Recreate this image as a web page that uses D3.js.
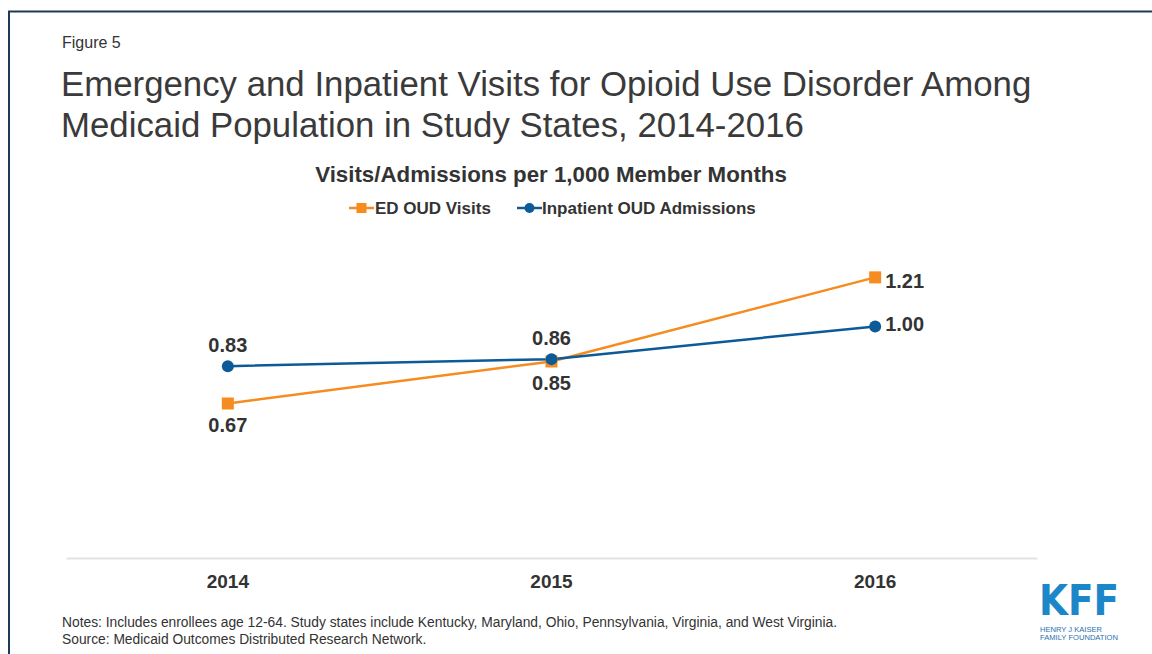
<!DOCTYPE html>
<html>
<head>
<meta charset="utf-8">
<script src="https://cdn.jsdelivr.net/npm/d3@7"></script>
<style>
  html, body { margin: 0; padding: 0; background: #fff; }
  svg { display: block; font-family: "Liberation Sans", Arial, sans-serif; }
</style>
</head>
<body>
<svg id="chart" width="1152" height="654"></svg>
<script>
// Chart data
const years = ["2014", "2015", "2016"];
const edVisits = [0.67, 0.85, 1.21];
const inpatientAdmissions = [0.83, 0.86, 1.00];
const seriesNames = ["ED OUD Visits", "Inpatient OUD Admissions"];
const yDomain = [0, 1.4];

const orange = "#f68b1f";
const blue = "#0d5a98";
const textColor = "#333333";

const svg = d3.select("#chart");

// Frame
svg.append("path")
  .attr("d", "M9,654 V11.5 H1152")
  .attr("fill", "none")
  .attr("stroke", "#1e3a55")
  .attr("stroke-width", 2);

// Header texts
svg.append("text").attr("x", 62).attr("y", 48)
  .attr("font-size", 16).attr("fill", textColor).text("Figure 5");

const title = svg.append("text").attr("font-size", 34.8).attr("fill", "#3a3a3a");
title.append("tspan").attr("x", 61).attr("y", 96)
  .text("Emergency and Inpatient Visits for Opioid Use Disorder Among");
title.append("tspan").attr("x", 61).attr("y", 137)
  .text("Medicaid Population in Study States, 2014-2016");

svg.append("text").attr("x", 551).attr("y", 182)
  .attr("text-anchor", "middle").attr("font-size", 22.3).attr("font-weight", "bold")
  .attr("fill", textColor).text("Visits/Admissions per 1,000 Member Months");

// Scales
const x = d3.scaleBand().domain(years).range([66, 1037]).padding(0);
const y = d3.scaleLinear().domain(yDomain).range([560, 233]);
const cx = d => x(d) + x.bandwidth() / 2;

// Category axis
const xAxis = svg.append("g").attr("transform", "translate(0,558)")
  .call(d3.axisBottom(x).tickSize(0).tickPadding(17));
xAxis.select(".domain").attr("stroke", "#e3e3e3").attr("stroke-width", 2);
xAxis.selectAll("text")
  .attr("font-family", "Liberation Sans, Arial, sans-serif")
  .attr("font-size", 19).attr("font-weight", "bold").attr("fill", textColor);

// Lines
const line = d3.line().x((d, i) => cx(years[i])).y(d => y(d));

svg.append("path").datum(edVisits)
  .attr("d", line).attr("fill", "none")
  .attr("stroke", orange).attr("stroke-width", 2.5);
svg.append("path").datum(inpatientAdmissions)
  .attr("d", line).attr("fill", "none")
  .attr("stroke", blue).attr("stroke-width", 2.5);

// Markers
svg.selectAll("rect.ed").data(edVisits).enter().append("rect")
  .attr("class", "ed")
  .attr("x", (d, i) => cx(years[i]) - 6).attr("y", d => y(d) - 6)
  .attr("width", 12).attr("height", 12).attr("fill", orange);
svg.selectAll("circle.ip").data(inpatientAdmissions).enter().append("circle")
  .attr("class", "ip")
  .attr("cx", (d, i) => cx(years[i])).attr("cy", d => y(d))
  .attr("r", 6).attr("fill", blue);

// Value labels
const fmt = d3.format(".2f");
const labelStyle = sel => sel.attr("font-size", 20).attr("font-weight", "bold").attr("fill", textColor);

// ED labels: below for first two, right of the last point
svg.selectAll("text.edlab").data(edVisits).enter().append("text")
  .attr("class", "edlab")
  .attr("x", (d, i) => i === 2 ? cx(years[i]) + 10 : cx(years[i]))
  .attr("y", (d, i) => i === 2 ? y(d) + 10.5 : y(d) + 28.5)
  .attr("text-anchor", (d, i) => i === 2 ? "start" : "middle")
  .text(d => fmt(d)).call(labelStyle);

// Inpatient labels: above for first two, right of the last point
svg.selectAll("text.iplab").data(inpatientAdmissions).enter().append("text")
  .attr("class", "iplab")
  .attr("x", (d, i) => i === 2 ? cx(years[i]) + 10 : cx(years[i]))
  .attr("y", (d, i) => i === 2 ? y(d) + 5 : y(d) - 14)
  .attr("text-anchor", (d, i) => i === 2 ? "start" : "middle")
  .text(d => fmt(d)).call(labelStyle);

// Legend
const legend = svg.append("g").attr("transform", "translate(0,208)");
const legendItems = [
  { name: seriesNames[0], color: orange, shape: "square", x0: 349, tx: 375 },
  { name: seriesNames[1], color: blue, shape: "circle", x0: 517, tx: 542 }
];
legendItems.forEach(it => {
  legend.append("line").attr("x1", it.x0).attr("x2", it.x0 + 25)
    .attr("y1", 0).attr("y2", 0).attr("stroke", it.color).attr("stroke-width", 2.5);
  if (it.shape === "square") {
    legend.append("rect").attr("x", it.x0 + 7.5).attr("y", -5)
      .attr("width", 10).attr("height", 10).attr("fill", it.color);
  } else {
    legend.append("circle").attr("cx", it.x0 + 12.5).attr("cy", 0)
      .attr("r", 5).attr("fill", it.color);
  }
  legend.append("text").attr("x", it.tx).attr("y", 6)
    .attr("font-size", 17).attr("font-weight", "bold").attr("fill", textColor)
    .text(it.name);
});

// Notes
svg.append("text").attr("x", 62).attr("y", 627)
  .attr("font-size", 13.8).attr("fill", "#333")
  .text("Notes: Includes enrollees age 12-64. Study states include Kentucky, Maryland, Ohio, Pennsylvania, Virginia, and West Virginia.");
svg.append("text").attr("x", 62).attr("y", 644)
  .attr("font-size", 13.8).attr("fill", "#333")
  .text("Source: Medicaid Outcomes Distributed Research Network.");

// KFF logo
const logo = svg.append("g");
logo.append("text").attr("x", 1039).attr("y", 615)
  .attr("font-family", "DejaVu Sans Condensed, DejaVu Sans, sans-serif")
  .attr("font-size", 42).attr("font-weight", "bold").attr("fill", "#1b87c9")
  .attr("textLength", 80).attr("lengthAdjust", "spacingAndGlyphs")
  .text("KFF");
logo.append("text").attr("x", 1040).attr("y", 632)
  .attr("font-size", 7.5).attr("fill", "#2a6fb0")
  .attr("textLength", 62).attr("lengthAdjust", "spacingAndGlyphs")
  .text("HENRY J KAISER");
logo.append("text").attr("x", 1040).attr("y", 640)
  .attr("font-size", 7.5).attr("fill", "#2a6fb0")
  .attr("textLength", 78).attr("lengthAdjust", "spacingAndGlyphs")
  .text("FAMILY FOUNDATION");
</script>
</body>
</html>
